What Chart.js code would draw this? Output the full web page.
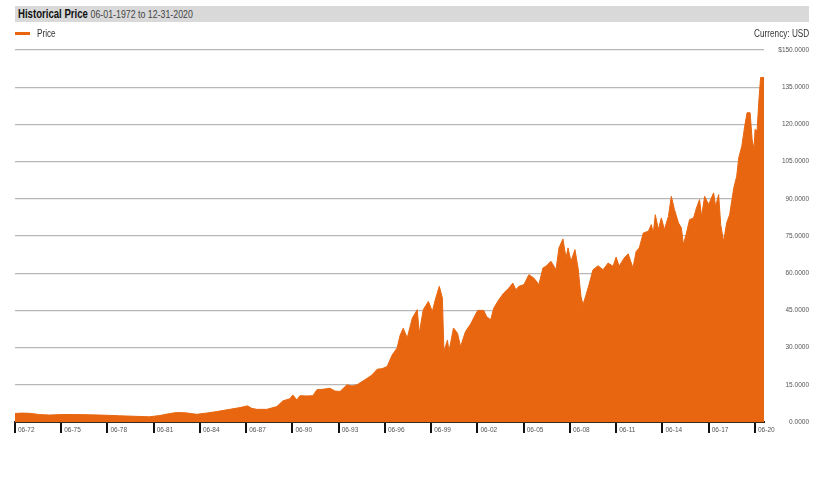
<!DOCTYPE html>
<html>
<head>
<meta charset="utf-8">
<script src="https://cdn.jsdelivr.net/npm/chart.js@4.4.1/dist/chart.umd.min.js"></script>
<style>
  body { margin: 0; background: #fff; font-family: "Liberation Sans", Arial, sans-serif; }
  #wrap { position: relative; width: 818px; height: 493px; }
  #head { position: absolute; left: 15px; top: 6px; width: 794px; height: 16px; background: #d9d9d9; }
  #head span.t { position: absolute; left: 3px; top: 1px; font-size: 12px; font-weight: bold; color: #111;
    transform: scaleX(0.8); transform-origin: left top; white-space: nowrap; }
  #head span.d { font-weight: normal; color: #444; font-size: 11px; }
  #leg { position: absolute; left: 15px; top: 28px; font-size: 10px; color: #333; white-space: nowrap; }
  #leg i { display: inline-block; width: 15px; height: 3px; background: #e8660f; vertical-align: middle; margin-right: 7px; margin-top: -2px; }
  #leg span, #cur span { display: inline-block; transform: scaleX(0.82); transform-origin: left top; }
  #cur { position: absolute; right: 9px; top: 28px; font-size: 10px; color: #333; white-space: nowrap; }
  #cur span { transform-origin: right top; }
  canvas { position: absolute; left: 0; top: 0; }
</style>
</head>
<body>
<div id="wrap">
  <canvas id="priceChart" width="818" height="493"></canvas>
  <div id="head"><span class="t">Historical Price <span class="d">06-01-1972 to 12-31-2020</span></span></div>
  <div id="leg"><i></i><span>Price</span></div>
  <div id="cur"><span>Currency: USD</span></div>
</div>
<script>
// decimal years and prices
const dates = [
  1972.42, 1972.83, 1973.35, 1974.0, 1974.65, 1975.43, 1976.27, 1977.25, 1977.9, 1978.42,
  1979.2, 1980.17, 1981.15, 1981.8, 1982.45, 1982.9, 1983.49, 1984.2, 1984.85, 1985.5,
  1986.35, 1987.0, 1987.5, 1987.78, 1988.1, 1988.75, 1989.4, 1989.79, 1990.25, 1990.44,
  1990.7, 1990.9, 1991.35, 1991.74, 1992.0, 1992.39, 1992.85, 1993.17, 1993.5, 1993.95,
  1994.28, 1994.6, 1994.93, 1995.26, 1995.58, 1995.91, 1996.23, 1996.56, 1996.88, 1997.2,
  1997.4, 1997.6, 1997.86, 1998.19, 1998.51, 1998.64, 1998.9, 1999.23, 1999.49, 1999.68,
  1999.94, 2000.14, 2000.24, 2000.47, 2000.57, 2000.86, 2001.12, 2001.32, 2001.64, 2001.97,
  2002.17, 2002.43, 2002.82, 2003.01, 2003.27, 2003.47, 2003.8, 2004.12, 2004.45, 2004.71,
  2004.91, 2005.1, 2005.43, 2005.75, 2006.08, 2006.4, 2006.66, 2006.86, 2007.18, 2007.51,
  2007.7, 2007.96, 2008.16, 2008.29, 2008.48, 2008.74, 2008.94, 2009.13, 2009.26, 2009.46,
  2009.65, 2009.91, 2010.24, 2010.56, 2010.89, 2011.21, 2011.41, 2011.6, 2011.93, 2012.19,
  2012.5, 2012.71, 2012.91, 2013.17, 2013.5, 2013.69, 2013.82, 2013.95, 2014.15, 2014.34,
  2014.54, 2014.8, 2014.99, 2015.19, 2015.45, 2015.64, 2015.77, 2015.97, 2016.17, 2016.43,
  2016.62, 2016.82, 2016.95, 2017.15, 2017.41, 2017.73, 2017.86, 2018.06, 2018.19, 2018.38,
  2018.58, 2018.77, 2019.04, 2019.23, 2019.36, 2019.56, 2019.75, 2019.9, 2020.1, 2020.23,
  2020.36, 2020.42, 2020.55, 2020.68, 2020.78, 2021.0
];
const prices = [
  3.4, 3.6, 3.5, 3.0, 2.8, 3.0, 3.0, 2.9, 2.8, 2.7,
  2.5, 2.3, 2.1, 2.6, 3.4, 3.8, 3.7, 3.1, 3.6, 4.2,
  5.1, 5.8, 6.5, 5.5, 5.1, 5.1, 6.2, 8.5, 9.4, 10.9,
  8.9, 10.6, 10.5, 10.6, 13.0, 13.2, 13.6, 12.5, 12.3, 15.0,
  14.5, 15.0, 16.3, 17.6, 19.0, 21.3, 21.5, 22.4, 27.0, 29.8,
  35.0, 37.8, 33.9, 41.9, 45.3, 35.8, 45.3, 48.6, 44.6, 49.3,
  54.7, 50.0, 28.4, 33.0, 28.4, 37.9, 35.8, 30.4, 36.5, 39.5,
  41.9, 45.0, 45.0, 42.5, 41.2, 45.9, 49.3, 52.0, 54.0, 56.0,
  53.3, 54.7, 55.4, 59.4, 58.0, 55.4, 62.1, 62.8, 64.8, 61.4,
  70.2, 73.8, 66.1, 70.2, 64.8, 69.5, 62.1, 50.6, 47.3, 51.3,
  55.4, 61.4, 63.0, 61.4, 64.1, 62.8, 66.5, 62.8, 66.1, 67.8,
  62.1, 68.8, 70.2, 76.2, 76.9, 79.6, 76.2, 83.6, 77.6, 82.3,
  77.6, 82.9, 91.0, 85.7, 80.3, 78.3, 71.5, 76.2, 81.6, 82.3,
  86.3, 89.7, 82.9, 91.0, 87.7, 92.4, 87.0, 91.7, 79.6, 72.8,
  80.3, 83.6, 94.4, 99.1, 106.5, 111.2, 119.3, 124.7, 124.7, 113.9,
  109.9, 118.0, 117.3, 130.8, 138.9, 138.9
];
const tickLabels = ['06-72', '06-75', '06-78', '06-81', '06-84', '06-87', '06-90', '06-93',
  '06-96', '06-99', '06-02', '06-05', '06-08', '06-11', '06-14', '06-17', '06-20'];
const yTicks = [0, 15, 30, 45, 60, 75, 90, 105, 120, 135, 150];

const orange = '#e8660f';
const tickFont = { family: '"Liberation Sans", Arial, sans-serif', size: 6.5 };

function labelToYear(l) {
  const m = parseInt(l.slice(0, 2), 10);
  const yy = parseInt(l.slice(3), 10);
  return (yy > 50 ? 1900 : 2000) + yy + (m - 1) / 12;
}

const ctx = document.getElementById('priceChart').getContext('2d');
new Chart(ctx, {
  type: 'line',
  data: {
    datasets: [{
      label: 'Price',
      data: dates.map((d, i) => ({ x: d, y: prices[i] })),
      borderColor: orange,
      backgroundColor: orange,
      borderWidth: 1,
      pointRadius: 0,
      tension: 0,
      fill: 'origin'
    }]
  },
  options: {
    responsive: false,
    animation: false,
    layout: { padding: { left: 15, top: 50, right: 9, bottom: 41 } },
    plugins: { legend: { display: false }, tooltip: { enabled: false } },
    scales: {
      x: {
        type: 'linear',
        min: 1972.42,
        max: 2021.0,
        z: 1,
        afterBuildTicks: s => { s.ticks = tickLabels.map(l => ({ value: labelToYear(l) })); },
        afterFit: s => { s.height = 30; },
        ticks: {
          autoSkip: false,
          maxRotation: 0,
          align: 'start',
          labelOffset: 3,
          padding: -7,
          color: '#555',
          font: tickFont,
          callback: (v, i) => tickLabels[i]
        },
        grid: { drawOnChartArea: false, color: '#111', lineWidth: 2, tickLength: 11 },
        border: { display: true, color: '#3b2a1c', width: 2 }
      },
      y: {
        position: 'right',
        min: 0,
        max: 150,
        afterBuildTicks: s => { s.ticks = yTicks.map(v => ({ value: v })); },
        afterFit: s => { s.width = 45; },
        ticks: {
          crossAlign: 'far',
          padding: 4,
          color: '#555',
          font: tickFont,
          callback: v => (v === 150 ? '$' : '') + v.toFixed(4)
        },
        grid: { color: '#b8b8b8', lineWidth: 1.2, drawTicks: false },
        border: { display: false }
      }
    }
  }
});
</script>
</body>
</html>
